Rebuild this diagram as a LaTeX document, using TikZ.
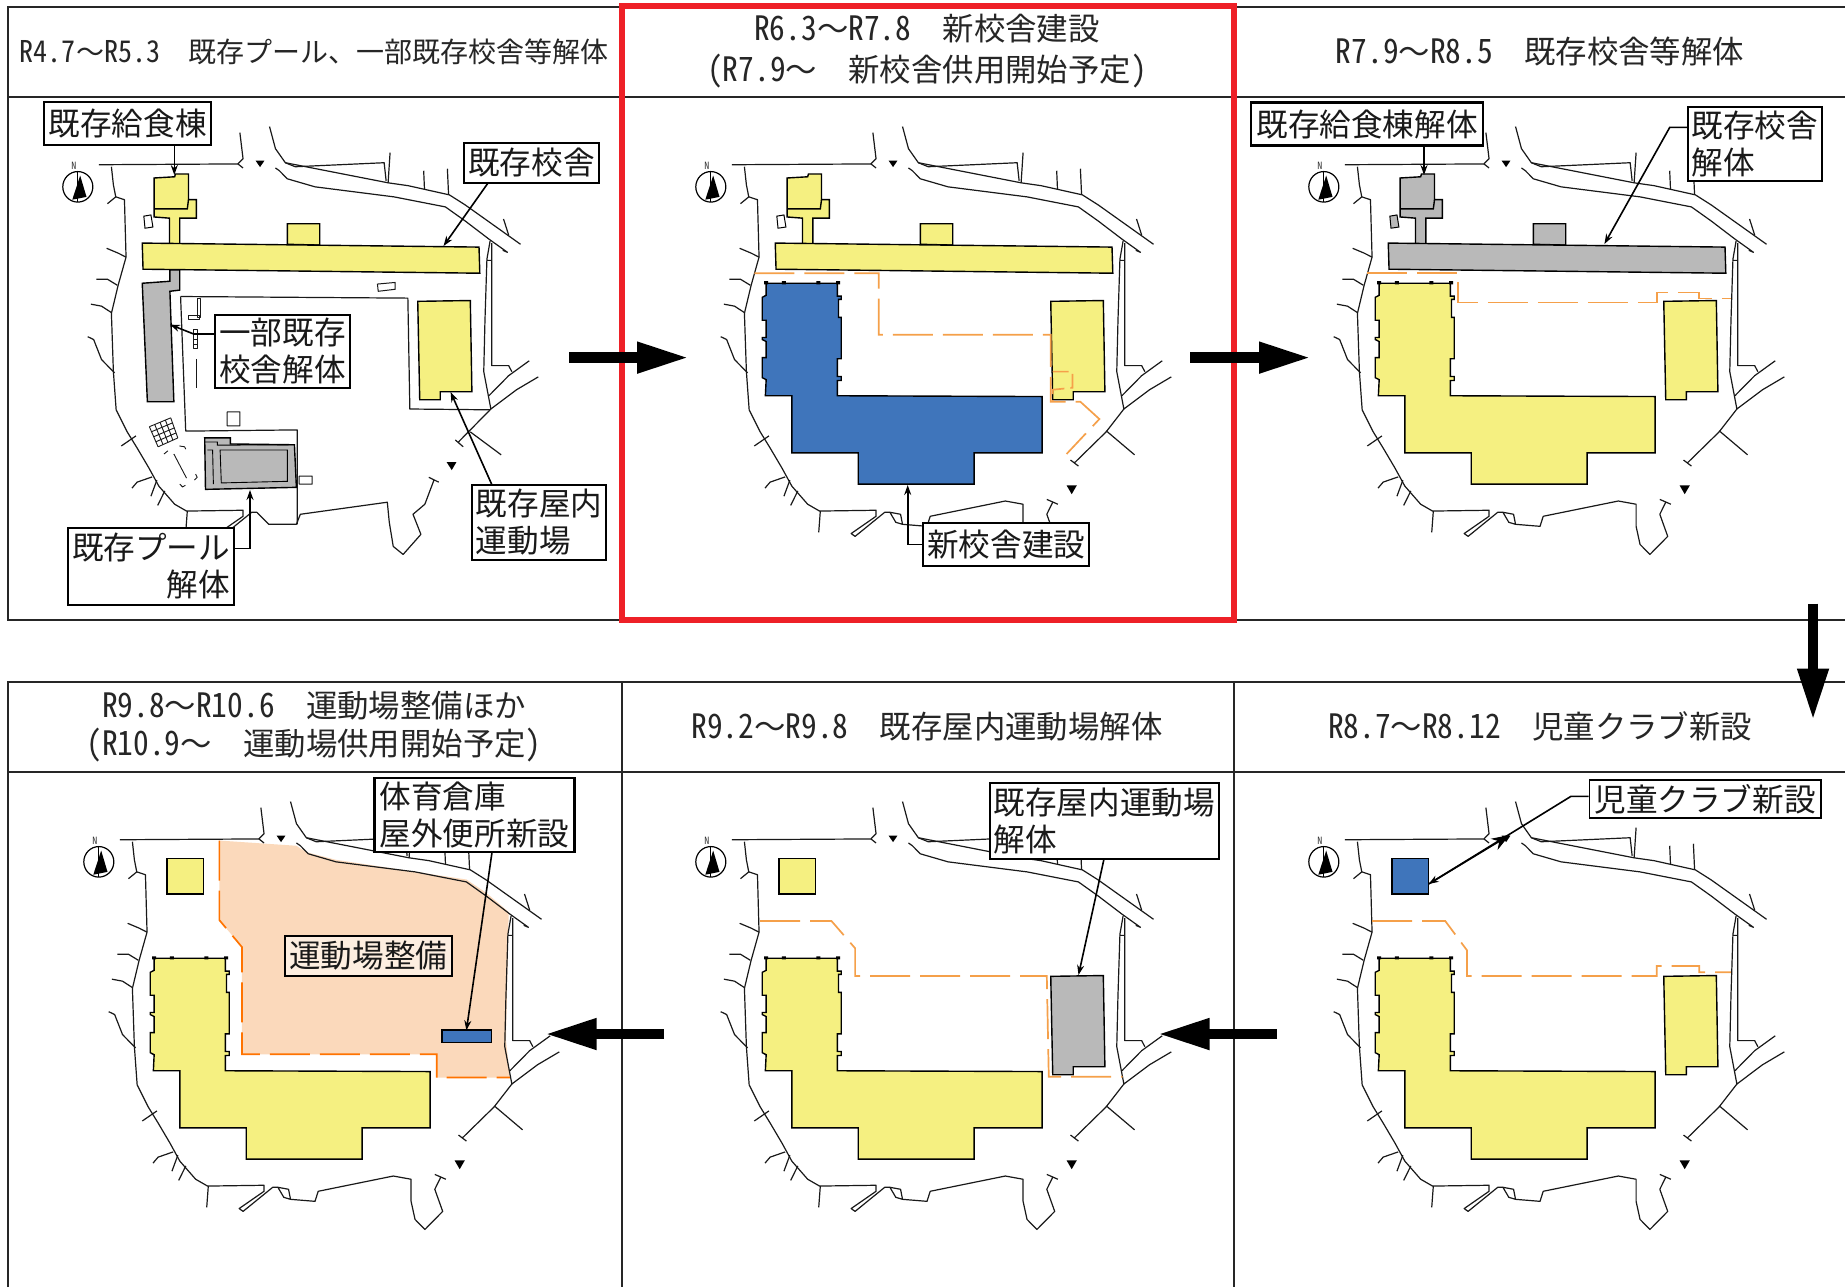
\documentclass[tikz,border=0pt]{standalone}
\usepackage{fontspec}
\usetikzlibrary{arrows.meta,calc}
\newfontfamily\jp[RawFeature={+hwid}]{Noto Sans CJK JP}
\newfontfamily\jpf{Noto Sans CJK JP}
\newfontfamily\jpl[RawFeature={+hwid},Scale=1.07,FakeStretch=0.935]{Noto Sans CJK JP}
\newcommand\dt[1]{{\jpl #1}}
\newcommand\wv{{\jpf ～}}
\newcommand\gp{{\jpf 　}}
\definecolor{bY}{HTML}{F5F081}
\definecolor{bG}{HTML}{B9B9B9}
\definecolor{bB}{HTML}{3F75BB}
\definecolor{bP}{HTML}{FBD9BB}
\definecolor{bO}{HTML}{F5A04A}
\definecolor{bR}{HTML}{EE2027}
\tikzset{
  maplayer/.style={xscale=0.39526,yscale=0.40177},
  mapline/.style={draw=black!90,line width=0.6pt,line join=round},
  bld/.style={draw=black,line width=0.7pt,line join=miter},
  bnd/.style={draw=bO,line width=0.85pt,dash pattern=on 20pt off 5pt},
  head/.style={inner sep=0pt,align=center,text=black!85,font=\jp\fontsize{15.7}{20}\selectfont},
  lbl/.style={draw=black,line width=1.1pt,fill=white,inner sep=0pt,text=black!90,font=\jp\fontsize{15.8}{18.5}\selectfont},
  leader/.style={draw=black,line width=0.8pt,-{Stealth[length=5pt,width=3.5pt]}},
  bigarrow/.style={draw=black,line width=5.2pt,-{Triangle[length=26pt,width=14.5pt]}},
  frameline/.style={draw=black!85,line width=0.65pt},
}
% ---- base map, all in one traced coordinate system
\newcommand\mapCommon[1]{%
  \draw[mapline] (303,410)--(655,408)--(668,395)--(660,330) (655,408)--(668,418);
  \draw[mapline] (335,415)--(340,460)--(346,490)--(368,497)--(372,640)--(352,710)--(335,780)--(340,925)--(347,1020)--(375,1075)--(400,1115)--(430,1165)--(455,1210)--(495,1255)--(525,1272)--(668,1270)--(668,1285)--(605,1328)--(615,1335)--(690,1275)--(703,1275);
  \draw[mapline] (346,490)--(325,507) (323,618)--(352,630)--(372,640) (297,695)--(325,695)--(350,710) (283,757)--(310,762)--(335,778) (275,838)--(290,845)--(310,895)--(343,928) (360,1110)--(397,1085) (387,1215)--(400,1200)--(438,1187) (435,1235)--(450,1195) (452,1258)--(470,1222) (527,1272)--(523,1325);
  \draw[mapline] (735,315)--(750,370)--(775,405)--(800,415)--(1025,405)--(1030,450) (1040,380)--(1035,455);
  \draw[mapline] (775,405)--(1035,455)--(1085,462)--(1190,485)--(1230,510)--(1370,608);
  \draw[mapline] (750,418)--(760,425)--(780,445)--(850,465)--(1050,490)--(1180,515)--(1230,550)--(1290,595)--(1337,628)--(1325,623);
  \draw[mapline] (1125,425)--(1127,470) (1185,420)--(1188,485) (1327,545)--(1340,585);
  \draw[mapline] (1293,600)--(1285,645)--(1280,800)--(1277,925)--(1295,1018)--(1360,970)--(1415,938);
  \draw[mapline] (1297,605)--(1297,910)--(1340,910)--(1348,925) (1285,648)--(1297,648) (1290,985)--(1340,935)--(1392,898);
  \fill[black] (700,400)--(722,400)--(711,416)--cycle;
  \draw[black,line width=0.6pt,fill=white] (250,465) circle [radius=38];
  \fill[black] (256,437)--(236,497)--(272,490)--cycle;
  \draw[black,line width=0.5pt] (250,427)--(250,503);
  \node[inner sep=0pt,text=black!80,font=\jp\fontsize{5}{5}\selectfont] (north#1) at (240,413) {N};
}
\newcommand\mapSEnew{%
  \draw[mapline] (1295,1018)--(1250,1075)--(1170,1152) (1160,1145)--(1180,1160) (1250,1072)--(1322,1132);
  \fill[black] (1150,1208)--(1176,1208)--(1163,1230)--cycle;
  \draw[mapline] (1100,1243)--(1128,1255) (1115,1250)--(1100,1280)--(1120,1335)--(1075,1380)--(1050,1355)--(1040,1310)--(1040,1255)--(995,1247)--(805,1285)--(797,1310)--(735,1305)--(730,1280)--(703,1275) (735,1305)--(718,1300)--(703,1275);
}
\newcommand\mapSEold{%
  \draw[mapline] (1295,1018)--(1213,1100) (1205,1095)--(1225,1112) (1243,1075)--(1321,1132);
  \fill[black] (1183,1150)--(1208,1150)--(1196,1170)--cycle;
  \draw[mapline] (1138,1188)--(1163,1200) (1151,1195)--(1128,1255)--(1098,1280)--(1118,1330)--(1073,1380)--(1048,1360)--(1038,1300)--(1033,1250)--(813,1280)--(803,1305)--(733,1305)--(703,1275);
}
% ---- buildings
\newcommand\bKitchen[2]{%
  \draw[bld,fill=#1] (443,443)--(495,440)--(497,433)--(530,433)--(530,497)--(550,497)--(550,543)--(508,543)--(508,608)--(482,608)--(482,543)--(443,540)--cycle;
  \draw[bld] (445,520)--(527,520)--(530,497);
  \draw[bld,fill=#2,line width=0.5pt] (417,538)--(435,535)--(440,565)--(420,568)--cycle;
}
\newcommand\bSchool[1]{%
  \draw[bld,fill=#1] (780,608)--(780,557)--(862,557)--(862,610)--cycle;
  \draw[bld,fill=#1] (413,605)--(1265,615)--(1267,680)--(415,670)--cycle;
}
\newcommand\bGym[1]{%
  \draw[bld,fill=#1] (1110,750)--(1243,748)--(1247,975)--(1167,975)--(1167,995)--(1115,995)--cycle;
}
\newcommand\bNew[1]{%
  \draw[bld,fill=#1] (390,705)--(570,705)--(570,737)--(580,737)--(580,745)--(573,745)--(573,790)--(580,790)--(580,893)--(570,893)--(570,937)--(580,937)--(580,947)--(570,947)--(570,985)--(1088,987)--(1088,1127)--(916,1127)--(916,1205)--(623,1205)--(623,1127)--(455,1127)--(455,985)--(388,985)--(390,945)--(380,940)--(380,890)--(390,890)--(390,850)--(380,845)--(380,840)--(390,840)--(390,797)--(380,797)--(380,740)--(390,735)--cycle;
  \fill[black] (385,700) rectangle (395,708) (430,700) rectangle (440,708) (517,700) rectangle (527,708) (567,700) rectangle (577,708);
}
\newcommand\bSquare[1]{\draw[bld,fill=#1] (422,456) rectangle (515,545);}
\begin{document}
\begin{tikzpicture}[x=0.5pt,y=-0.5pt]
\useasboundingbox (0,0) rectangle (1845,1287);
\fill[white] (0,0) rectangle (1845,1287);
% ---- panel frames
\draw[frameline] (1845,7)--(8,7)--(8,620)--(1845,620);
\draw[frameline] (8,97)--(1845,97);
\draw[frameline] (8,1287)--(8,682)--(1845,682);
\draw[frameline] (8,772)--(1845,772);
\draw[frameline] (622,682)--(622,1287) (1234,682)--(1234,1287);
% ---- headings
\node[head,font=\jp\fontsize{14}{20}\selectfont] (h1) at (314,52) {\dt{R4.7}\wv\dt{R5.3}\gp 既存プール、一部既存校舎等解体};
\node[head,font=\jp\fontsize{15.7}{20.5}\selectfont] (h2) at (927,51.5) {\dt{R6.3}\wv\dt{R7.8}\gp 新校舎建設\\\dt{(R7.9}\wv\gp 新校舎供用開始予定\dt{)}};
\node[head] (h3) at (1540,52) {\dt{R7.9}\wv\dt{R8.5}\gp 既存校舎等解体};
\node[head,font=\jp\fontsize{15.7}{19}\selectfont] (h4) at (314,727) {\dt{R9.8}\wv\dt{R10.6}\gp 運動場整備ほか\\\dt{(R10.9}\wv\gp 運動場供用開始予定\dt{)}};
\node[head] (h5) at (927,726.5) {\dt{R9.2}\wv\dt{R9.8}\gp 既存屋内運動場解体};
\node[head] (h6) at (1540,726) {\dt{R8.7}\wv\dt{R8.12}\gp 児童クラブ新設};
% ---- panel 1
\begin{scope}[shift={(-21,0)},maplayer]
  \bKitchen{bY}{white}\bSchool{bY}\bGym{bY}
  \draw[bld,fill=bG] (413,705)--(483,700)--(483,672)--(508,672)--(508,722)--(483,725)--(493,1000)--(426,1000)--cycle;
  \mapCommon{a}\mapSEold
  \draw[mapline] (510,738)--(1085,742)--(1090,1018)--(1293,1020) (510,738)--(523,1073)--(805,1070)--(805,1305);
  \draw[mapline,line width=0.5pt] (1008,707)--(1053,703)--(1053,720)--(1010,725)--cycle (628,1025) rectangle (660,1060) (810,1185) rectangle (843,1205);
  \draw[mapline,line width=0.5pt] (553,742) rectangle (561,790) (531,785) rectangle (558,795) (543,820) rectangle (553,868) (551,893)--(551,965);
  \foreach \yy in {832,844,856} \draw[mapline,line width=0.4pt] (543,\yy)--(553,\yy);
  \coordinate (ga) at (431,1062); \coordinate (gb) at (485,1040); \coordinate (gc) at (503,1090); \coordinate (gd) at (453,1112);
  \foreach \t in {0,0.25,0.5,0.75,1} {
    \draw[mapline,line width=0.45pt] ($(ga)!\t!(gb)$)--($(gd)!\t!(gc)$) ($(ga)!\t!(gd)$)--($(gb)!\t!(gc)$);
  }
  \draw[mapline,line width=0.45pt] (493,1130)--(525,1190) (468,1130)--(478,1122) (507,1110)--(520,1112)--(523,1118) (508,1205)--(515,1212)--(522,1208) (548,1180)--(552,1188)--(545,1195);
  \draw[bld,fill=bG] (571,1090)--(636,1090)--(636,1105)--(798,1107)--(803,1213)--(573,1218)--cycle;
  \draw[bld,line width=0.45pt] (571,1100)--(603,1100)--(603,1108)--(798,1107) (578,1120)--(591,1120)--(593,1205);
  \draw[bld,line width=0.45pt] (610,1120)--(780,1120)--(780,1198)--(613,1202)--cycle;
\end{scope}
\node[lbl,minimum width=83.5pt,minimum height=21.5pt] (l1a) at (127.75,123.5) {既存給食棟};
\node[lbl,minimum width=67.5pt,minimum height=20pt] (l1b) at (531.5,162.8) {既存校舎};
\node[lbl,minimum width=67.5pt,minimum height=36.5pt,align=left] (l1c) at (282.5,351.5) {一部既存\\校舎解体};
\node[lbl,minimum width=83pt,minimum height=38.5pt,align=right] (l1d) at (151,566.5) {既存プール\\解体};
\node[lbl,minimum width=67pt,minimum height=37.5pt,align=left] (l1e) at (539,522.5) {既存屋内\\運動場};
\coordinate (t1a) at (174.3,175);
\draw[leader] (l1a.south -| t1a)--(t1a);
\coordinate (s1b) at (488,183); \coordinate (t1b) at (443.5,246);
\draw[leader] (s1b)--(t1b);
\coordinate (s1c) at (215,334); \coordinate (m1c) at (193.7,334); \coordinate (t1c) at (170,324.6);
\draw[leader] (s1c)--(m1c)--(t1c);
\coordinate (s1d) at (234,548.4); \coordinate (m1d) at (250,548.4); \coordinate (t1d) at (250,490);
\draw[leader] (s1d)--(m1d)--(t1d);
\coordinate (s1e) at (492,485); \coordinate (t1e) at (450.6,392);
\draw[leader] (s1e)--(t1e);
% ---- panel 2
\begin{scope}[shift={(612,0)},maplayer]
  \bKitchen{bY}{white}\bSchool{bY}\bGym{bY}\bNew{bB}
  \mapCommon{b}\mapSEnew
  \draw[bnd] (360,680)--(675,680)--(675,833)--(1110,833)--(1110,1000)--(1185,1000)--(1233,1043)--(1150,1130);
  \draw[bnd,dash pattern=on 8pt off 3pt] (1115,925)--(1165,925)--(1165,965)--(1115,970)--(1115,1000);
\end{scope}
\node[lbl,minimum width=83pt,minimum height=21.5pt] (l2a) at (1006.25,544.4) {新校舎建設};
\coordinate (m2a) at (907.7,544.4); \coordinate (t2a) at (907.7,485);
\draw[leader] (l2a.west)--(m2a)--(t2a);
% ---- panel 3
\begin{scope}[shift={(1225,0)},maplayer]
  \bKitchen{bG}{bG}\bSchool{bG}\bGym{bY}\bNew{bY}
  \mapCommon{c}\mapSEnew
  \draw[bnd] (360,680)--(590,680)--(590,753)--(1093,753)--(1093,728)--(1200,728)--(1200,743)--(1280,743);
\end{scope}
\node[lbl,minimum width=116pt,minimum height=21.5pt] (l3a) at (1367,124) {既存給食棟解体};
\node[lbl,minimum width=67pt,minimum height=37pt,align=left] (l3b) at (1754.7,144) {既存校舎\\解体};
\coordinate (t3a) at (1424,175);
\draw[leader] (l3a.south -| t3a)--(t3a);
\coordinate (s3b) at (1687.5,127.4); \coordinate (m3b) at (1669.7,127.4); \coordinate (t3b) at (1604.4,244);
\draw[leader] (s3b)--(m3b)--(t3b);
% ---- panel 4
\begin{scope}[shift={(0,675)},maplayer]
  \fill[bP] (555,412)--(750,425)--(775,441)--(850,460)--(1180,509)--(1230,542)--(1287,590)--(1280,908)--(1290,1002)--(1105,1002)--(1105,944)--(612,944)--(612,677)--(555,610)--cycle;
  \bSquare{bY}\bNew{bY}
  \mapCommon{d}\mapSEnew
  \draw[bnd,draw=orange!90!red] (555,412)--(555,610)--(612,677)--(612,944)--(1105,944)--(1105,1002)--(1290,1002);
  \draw[bld,fill=bB] (1118,884) rectangle (1243,915);
\end{scope}
\node[lbl,minimum width=100pt,minimum height=37pt,align=left] (l4a) at (474.5,815) {体育倉庫\\屋外便所新設};
\node[lbl,fill=bP!45,minimum width=83.5pt,minimum height=20pt] (l4b) at (368.2,955.7) {運動場整備};
\coordinate (s4a) at (492,852.3); \coordinate (t4a) at (466.4,1030.4);
\draw[leader] (s4a)--(t4a);
% ---- panel 5
\begin{scope}[shift={(612,675)},maplayer]
  \bSquare{bY}\bNew{bY}\bGym{bG}
  \mapCommon{e}\mapSEnew
  \draw[bnd] (375,612)--(555,612)--(615,680)--(615,749)--(1100,749)--(1105,1000)--(1292,1000);
\end{scope}
\node[lbl,minimum width=114.6pt,minimum height=38pt,align=left] (l5a) at (1104.2,820.7) {既存屋内運動場\\解体};
\coordinate (s5a) at (1104,858.9); \coordinate (t5a) at (1078.5,975);
\draw[leader] (s5a)--(t5a);
% ---- panel 6
\begin{scope}[shift={(1225,675)},maplayer]
  \bSquare{bB}\bNew{bY}\bGym{bY}
  \mapCommon{f}\mapSEnew
  \draw[bnd] (372,612)--(557,612)--(612,685)--(612,749)--(1092,749)--(1092,724)--(1200,724)--(1200,740)--(1280,740);
\end{scope}
\node[lbl,line width=0.9pt,minimum width=115.6pt,minimum height=19pt] (l6a) at (1705,798.8) {児童クラブ新設};
\coordinate (m6a) at (1571,796.3); \coordinate (c6a) at (1509.6,835); \coordinate (t6a) at (1428.6,884);
\draw[leader] (l6a.west |- m6a)--(m6a)--(t6a);
\draw[leader,-{Stealth[length=9pt,width=6.5pt]}] (t6a)--(c6a);
% ---- red frame
\draw[bR,line width=2.6pt] (622,6) rectangle (1234,620);
% ---- big arrows
\coordinate (a1s) at (569,357.6); \coordinate (a1e) at (689,357.6);
\coordinate (a2s) at (1190,357.6); \coordinate (a2e) at (1311,357.6);
\coordinate (a3s) at (1813,603.5); \coordinate (a3e) at (1813,720.5);
\coordinate (a4s) at (1277,1034); \coordinate (a4e) at (1157.5,1034);
\coordinate (a5s) at (664,1034); \coordinate (a5e) at (544.7,1034);
\draw[bigarrow] (a1s)--(a1e);
\draw[bigarrow] (a2s)--(a2e);
\draw[bigarrow] (a3s)--(a3e);
\draw[bigarrow] (a4s)--(a4e);
\draw[bigarrow] (a5s)--(a5e);
\end{tikzpicture}
\end{document}
